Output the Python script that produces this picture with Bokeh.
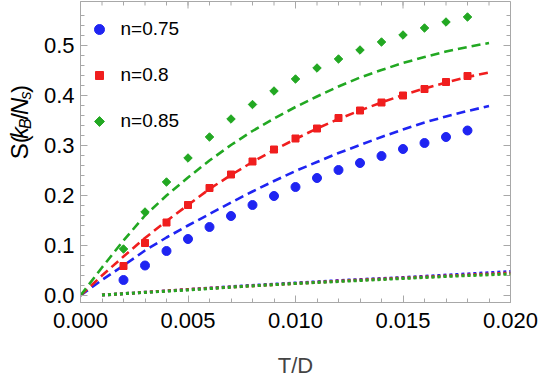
from math import pi

import numpy as np
from bokeh.core.properties import value
from bokeh.embed import file_html
from bokeh.layouts import row
from bokeh.models import (ColumnDataSource, FixedTicker, Label,
                          PrintfTickFormatter, Range1d)
from bokeh.plotting import figure
from bokeh.resources import INLINE

# ---- data -------------------------------------------------------------
# simulated entropy points
t_pts = [0.002, 0.003, 0.004, 0.005, 0.006, 0.007, 0.008, 0.009, 0.010,
         0.011, 0.012, 0.013, 0.014, 0.015, 0.016, 0.017, 0.018]
s_075 = [0.031, 0.060, 0.089, 0.113, 0.137, 0.159, 0.181, 0.199, 0.217,
         0.235, 0.251, 0.265, 0.279, 0.293, 0.305, 0.317, 0.330]
s_080 = [0.059, 0.105, 0.146, 0.181, 0.215, 0.242, 0.268, 0.292, 0.314,
         0.334, 0.355, 0.370, 0.386, 0.400, 0.413, 0.427, 0.439]
s_085 = [0.093, 0.167, 0.227, 0.275, 0.317, 0.353, 0.382, 0.409, 0.433,
         0.455, 0.473, 0.491, 0.507, 0.521, 0.535, 0.547, 0.557]

# theory curves (dashed)
t_curve = [0.000, 0.001, 0.002, 0.003, 0.004, 0.005, 0.006, 0.007, 0.008,
           0.009, 0.010, 0.011, 0.012, 0.013, 0.014, 0.015, 0.016, 0.017,
           0.018, 0.019]
c_075 = [0.0, 0.031, 0.060, 0.090, 0.116, 0.140, 0.163, 0.186, 0.208, 0.229,
         0.249, 0.267, 0.285, 0.301, 0.317, 0.332, 0.346, 0.358, 0.369, 0.379]
c_080 = [0.0, 0.040, 0.078, 0.115, 0.149, 0.181, 0.213, 0.241, 0.267, 0.291,
         0.313, 0.334, 0.353, 0.370, 0.386, 0.401, 0.414, 0.426, 0.437, 0.446]
c_085 = [0.0, 0.056, 0.110, 0.160, 0.200, 0.236, 0.270, 0.301, 0.329, 0.354,
         0.377, 0.398, 0.418, 0.436, 0.451, 0.465, 0.477, 0.488, 0.497, 0.505]

# low-temperature contribution (dotted)
t_low = [0.001, 0.0025, 0.005, 0.0075, 0.010, 0.0125, 0.015, 0.0175, 0.020]
l_075 = [0.001, 0.005, 0.012, 0.019, 0.025, 0.031, 0.036, 0.042, 0.048]
l_080 = [0.001, 0.005, 0.012, 0.018, 0.024, 0.030, 0.035, 0.040, 0.045]
l_085 = [0.001, 0.005, 0.011, 0.018, 0.024, 0.029, 0.034, 0.039, 0.043]

labels = ["n=0.75", "n=0.8", "n=0.85"]
x_ticks = [0.000, 0.005, 0.010, 0.015, 0.020]
y_ticks = [0.0, 0.1, 0.2, 0.3, 0.4, 0.5]

# ---- styling ----------------------------------------------------------
BLUE, RED, GREEN = "#1f24f2", "#f01e1e", "#22a822"
FRAME = "#a8a8a8"
FONT = "Liberation Sans"

X0, X1 = 0.0, 0.020
Y0, Y1 = -0.014, 0.588
H = 382
STRIP = 36                       # narrow strip holding the vertical title
W = 542 - STRIP
LEFT, RIGHT, TOP, BOTTOM = 44, 32, 1, 80
FW, FH = W - LEFT - RIGHT, H - TOP - BOTTOM

p = figure(width=W, height=H, output_backend="svg", toolbar_location=None,
           x_range=Range1d(X0, X1), y_range=Range1d(Y0, Y1),
           min_border_left=LEFT, min_border_right=RIGHT,
           min_border_top=TOP, min_border_bottom=BOTTOM)
p.xgrid.visible = False
p.ygrid.visible = False
p.outline_line_color = FRAME
p.background_fill_color = "white"


def dx(px):
    """horizontal pixel length -> data length"""
    return px * (X1 - X0) / FW


def dy(px):
    """vertical pixel length -> data length"""
    return px * (Y1 - Y0) / FH


x_minor = list(np.round(np.arange(0, 0.0201, 0.001), 4))
y_minor = list(np.round(np.arange(0, 0.58, 0.02), 3))

for ax in (p.xaxis[0], p.yaxis[0]):
    ax.axis_line_color = FRAME
    ax.major_tick_line_color = FRAME
    ax.minor_tick_line_color = FRAME
    ax.major_tick_in = 7
    ax.major_tick_out = 0
    ax.minor_tick_in = 4
    ax.minor_tick_out = 0
    ax.major_label_text_font = FONT
    ax.major_label_text_font_size = "22px"
    ax.major_label_text_color = "black"

p.xaxis.ticker = FixedTicker(ticks=x_ticks, minor_ticks=x_minor)
p.xaxis.formatter = PrintfTickFormatter(format="%.3f")
p.yaxis.ticker = FixedTicker(ticks=y_ticks, minor_ticks=y_minor)
p.yaxis.formatter = PrintfTickFormatter(format="%.1f")
p.xaxis.major_label_standoff = 10
p.yaxis.major_label_standoff = 6
p.xaxis.axis_label = "T/D"
p.xaxis.axis_label_text_font = FONT
p.xaxis.axis_label_text_font_size = "22px"
p.xaxis.axis_label_text_font_style = "normal"
p.xaxis.axis_label_standoff = 22

# mirrored frame ticks along the top and right edges
top_major = dict(x0=x_ticks, x1=x_ticks, y0=[Y1] * len(x_ticks),
                 y1=[Y1 - dy(7)] * len(x_ticks))
top_minor = dict(x0=x_minor, x1=x_minor, y0=[Y1] * len(x_minor),
                 y1=[Y1 - dy(4)] * len(x_minor))
right_major = dict(x0=[X1] * len(y_ticks), x1=[X1 - dx(7)] * len(y_ticks),
                   y0=y_ticks, y1=y_ticks)
right_minor = dict(x0=[X1] * len(y_minor), x1=[X1 - dx(4)] * len(y_minor),
                   y0=y_minor, y1=y_minor)
for seg in (top_major, top_minor, right_major, right_minor):
    p.segment(source=ColumnDataSource(seg), x0="x0", y0="y0", x1="x1",
              y1="y1", line_color=FRAME, line_width=1)

# dotted low-temperature lines
for ys, col in [(l_075, BLUE), (l_080, RED), (l_085, GREEN)]:
    p.line(t_low, ys, line_color=col, line_width=3, line_dash="3 3")

# dashed theory curves
for ys, col in [(c_075, BLUE), (c_080, RED), (c_085, GREEN)]:
    p.line(t_curve, ys, line_color=col, line_width=2.6, line_dash="9 5")

# data points
styles = [dict(marker="circle", size=9, angle=0.0, color=BLUE),
          dict(marker="square", size=7, angle=0.0, color=RED),
          dict(marker="square", size=6, angle=pi / 4, color=GREEN)]
src = ColumnDataSource(dict(t=t_pts, a=s_075, b=s_080, c=s_085))
for col_name, st in zip(["a", "b", "c"], styles):
    p.scatter("t", col_name, source=src, marker=st["marker"], size=st["size"],
              angle=st["angle"], fill_color=st["color"],
              line_color=st["color"])

# legend: marker swatch + label per series, in the upper-left corner
legend_rows_px = [29, 75, 121]          # y of each row centre, from the top
swatch_px, text_px = 19, 40             # x offsets from the frame's left edge
for lab, st, r in zip(labels, styles, legend_rows_px):
    sx = X0 + dx(swatch_px)
    sy = Y1 - dy(r - TOP)
    p.scatter([sx], [sy], marker=st["marker"], size=st["size"] + 1,
              angle=st["angle"], fill_color=st["color"],
              line_color=st["color"])
    p.add_layout(Label(x=text_px, y=H - BOTTOM - r + 1,
                       x_units="screen", y_units="screen", text=lab,
                       text_font=FONT, text_font_size="19px",
                       text_align="left", text_baseline="middle",
                       text_color="black"))

# ---- vertical title strip: S(k_B/N_s) ---------------------------------
# pieces: text, size, style, sideways shift (px, subscripts), advance (em)
pieces = [("S(", 24, "normal", 0.0, 1.000),
          ("k", 24, "italic", 0.0, 0.520),
          ("B", 16, "italic", 6.0, 0.700),
          ("/", 24, "normal", 0.0, 0.300),
          ("N", 24, "italic", 0.0, 0.760),
          ("s", 16, "italic", 6.0, 0.560),
          (")", 24, "normal", 0.0, 0.333)]
tx, ty, ts, tf, txt_list = [], [], [], [], []
pos = 197.0                      # bottom end of the title, from the top
for txt, size, style, shift, adv in pieces:
    step = adv * size
    txt_list.append(txt)
    tx.append(19 + shift)
    ty.append(H - (pos - step / 2))
    ts.append(f"{size}px")
    tf.append(style)
    pos -= step

strip = figure(width=STRIP, height=H, output_backend="svg",
               toolbar_location=None, x_range=Range1d(0, STRIP),
               y_range=Range1d(0, H), x_axis_type=None, y_axis_type=None,
               min_border=0)
strip.xgrid.visible = False
strip.ygrid.visible = False
strip.outline_line_color = None
strip.text(x="x", y="y", text="t",
           source=ColumnDataSource(dict(x=tx, y=ty, t=txt_list, fs=ts, st=tf)),
           angle=pi / 2, text_font=value(FONT), text_font_size="fs",
           text_font_style="st", text_align="center",
           text_baseline="middle", text_color="black")

layout = row(strip, p, spacing=0)
open("out.html", "w").write(file_html(layout, INLINE))
